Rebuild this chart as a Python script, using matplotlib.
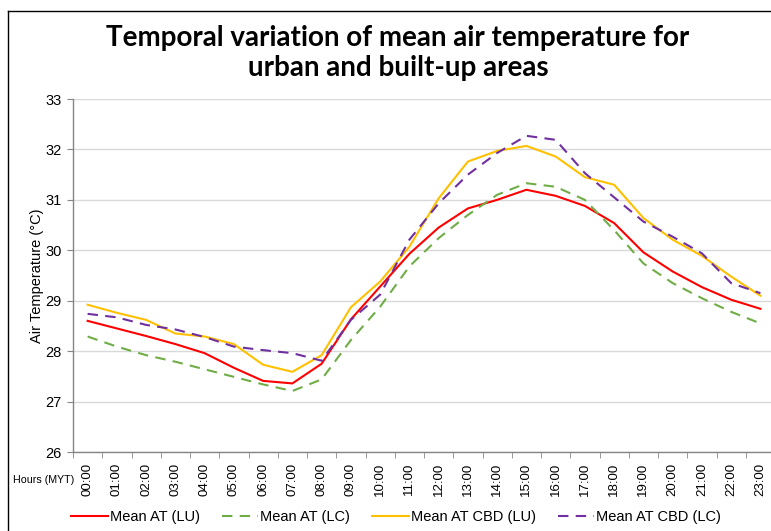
import numpy as np
import matplotlib.pyplot as plt
from matplotlib.lines import Line2D

hours = ['%02d:00' % h for h in range(24)]

mean_lu = [28.60, 28.45, 28.30, 28.14, 27.96, 27.67, 27.41, 27.36, 27.75, 28.63, 29.28, 29.93,
           30.45, 30.83, 31.00, 31.20, 31.08, 30.88, 30.54, 29.96, 29.58, 29.27, 29.02, 28.84]
mean_lc = [28.29, 28.09, 27.92, 27.79, 27.64, 27.49, 27.34, 27.21, 27.44, 28.22, 28.88, 29.68,
           30.24, 30.70, 31.10, 31.33, 31.26, 31.00, 30.40, 29.74, 29.35, 29.05, 28.78, 28.55]
cbd_lu = [28.92, 28.76, 28.62, 28.35, 28.29, 28.14, 27.73, 27.59, 27.92, 28.87, 29.38, 30.07,
          31.03, 31.76, 31.97, 32.07, 31.86, 31.45, 31.30, 30.64, 30.21, 29.89, 29.48, 29.10]
cbd_lc = [28.74, 28.67, 28.52, 28.43, 28.28, 28.09, 28.02, 27.96, 27.81, 28.62, 29.12, 30.21,
          30.93, 31.50, 31.93, 32.27, 32.19, 31.53, 31.05, 30.57, 30.27, 29.94, 29.35, 29.15]

W, H = 771, 531
fig = plt.figure(figsize=(W / 100, H / 100), dpi=100)
ax = fig.add_axes([73 / W, 1 - 452 / H, 702 / W, 353 / H])

x = np.arange(24)
ax.plot(x, mean_lu, color='#ff0000', lw=1.5, label='Mean AT (LU)')
ax.plot(x, mean_lc, color='#70ad47', lw=1.5, dashes=[5, 3.5], label='Mean AT (LC)')
ax.plot(x, cbd_lu, color='#ffc000', lw=1.5, label='Mean AT CBD (LU)')
ax.plot(x, cbd_lc, color='#7030a0', lw=1.5, dashes=[5, 3.5], label='Mean AT CBD (LC)')

ax.set_xlim(-0.5, 23.5)
ax.set_ylim(26, 33)
ax.set_yticks(range(26, 34))
ax.yaxis.grid(True, color='#d9d9d9', lw=1)
ax.set_axisbelow(True)
for s in ['top', 'right']:
    ax.spines[s].set_visible(False)
for s in ['left', 'bottom']:
    ax.spines[s].set_color('#868686')
    ax.spines[s].set_linewidth(1)

ax.set_xticks(x)
ax.set_xticklabels(hours, rotation=90, fontsize=9.5, family='Liberation Sans')
ax.set_xticks(np.arange(-0.5, 24, 1), minor=True)
ax.tick_params(axis='x', which='major', length=0, pad=8)
ax.tick_params(axis='x', which='minor', length=4, color='#868686', direction='out')
ax.tick_params(axis='y', length=4, color='#868686', labelsize=10.5, pad=4)
for lb in ax.get_yticklabels():
    lb.set_family('Liberation Sans')

ax.set_ylabel('Air Temperature (°C)', fontsize=10.5, family='Liberation Sans', labelpad=1)

fig.text(13 / W, 1 - 480 / H, 'Hours (MYT)', fontsize=7.7, family='Liberation Sans', va='center')

fig.text(398 / W, 1 - 38 / H, 'Temporal variation of mean air temperature for',
         fontsize=20, fontweight='bold', family='Lato', ha='center', va='center')
fig.text(398 / W, 1 - 68 / H, 'urban and built-up areas',
         fontsize=20, fontweight='bold', family='Lato', ha='center', va='center')

# chart area border (cut off at right and bottom)
fig.add_artist(Line2D([8 / W, 1], [1 - 11 / H, 1 - 11 / H], color='black', lw=1))
fig.add_artist(Line2D([8 / W, 8 / W], [0, 1 - 11 / H], color='black', lw=1))

fig.legend(loc='center left', bbox_to_anchor=(64 / W, 1 - 517 / H), ncol=4, frameon=False,
           prop={'family': 'Liberation Sans', 'size': 10.5}, borderpad=0,
           handlelength=2.5, handletextpad=0.15, columnspacing=1.5)

fig.savefig('out.png', dpi=100)
